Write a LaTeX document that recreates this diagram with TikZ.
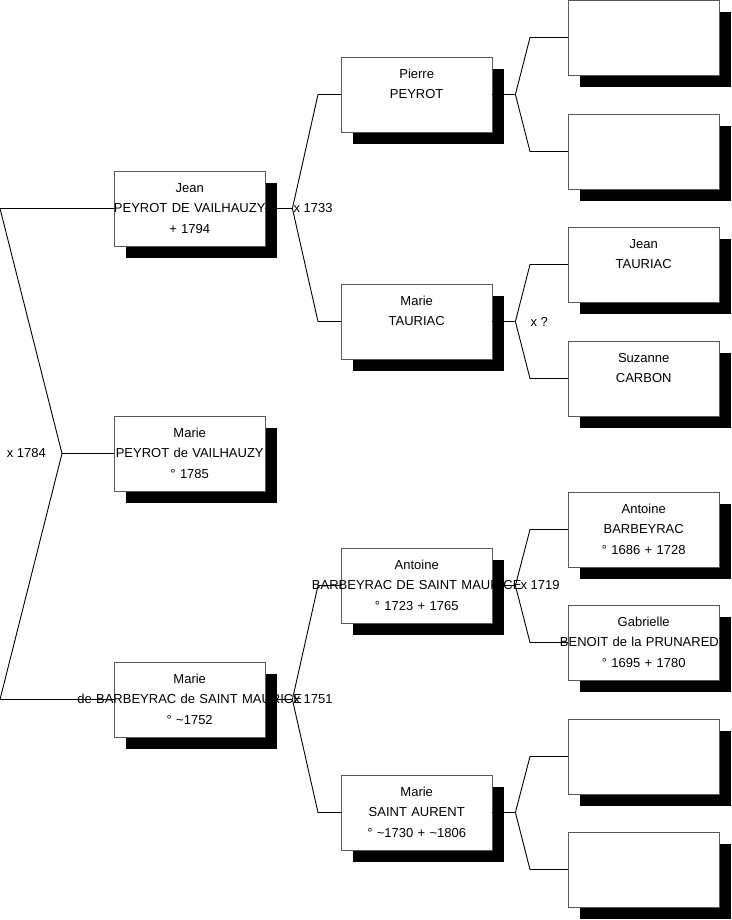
\documentclass[tikz,border=0pt]{standalone}
\usepackage{fontspec}
\setmainfont{Liberation Sans}
\usepackage{tikz}
\usetikzlibrary{shadows,positioning}
\newcommand{\who}[3]{\makebox[0pt]{\strut #1}\\\makebox[0pt]{\strut #2}\\\makebox[0pt]{\strut #3}}

\begin{document}
\begin{tikzpicture}[x=1pt, y=-1pt]
\tikzstyle{person} = [rectangle, anchor=west, minimum width=151pt, minimum height=75pt, text width=151pt, inner sep=0pt, align=center, draw=black!65, fill=white, font=\fontsize{13}{20.5}\selectfont, drop shadow={shadow xshift=12pt, shadow yshift=-12pt, fill=black, opacity=1}]
\tikzstyle{link} = [line width=0.9pt]
\tikzstyle{wed} = [anchor=west, inner sep=1pt, font=\fontsize{13}{16}\selectfont]

\useasboundingbox (0,0) rectangle (731,920);

\node (jean) [person] at (114,208.5) {\who{Jean}{PEYROT DE VAILHAUZY}{+ 1794}};
\node (mariep) [person] at (114,453.5) {\who{Marie}{PEYROT de VAILHAUZY}{° 1785}};
\node (marieb) [person] at (114,699.5) {\who{Marie}{de BARBEYRAC de SAINT MAURICE}{° \textasciitilde1752}};

\node (pierre) [person] at (341,94.5) {\who{Pierre}{PEYROT}{}};
\node (mariet) [person] at (341,321.5) {\who{Marie}{TAURIAC}{}};
\node (antoine) [person] at (341,585.5) {\who{Antoine}{BARBEYRAC DE SAINT MAURICE}{° 1723 + 1765}};
\node (maries) [person] at (341,812.5) {\who{Marie}{SAINT AURENT}{° \textasciitilde1730 + \textasciitilde1806}};

\node (unk1) [person] at (568,37.5) {};
\node (unk2) [person] at (568,151.5) {};
\node (jeant) [person] at (568,264.5) {\who{Jean}{TAURIAC}{}};
\node (suzanne) [person] at (568,378.5) {\who{Suzanne}{CARBON}{}};
\node (antoineb) [person] at (568,529.5) {\who{Antoine}{BARBEYRAC}{° 1686 + 1728}};
\node (gabrielle) [person] at (568,642.5) {\who{Gabrielle}{BENOIT de la PRUNAREDE}{° 1695 + 1780}};
\node (unk3) [person] at (568,756.5) {};
\node (unk4) [person] at (568,869.5) {};

\coordinate (r1) at (0,208.5);
\coordinate (rm) at (62,453.5);
\coordinate (r2) at (0,699.5);
\draw [link] (jean.west) -- (r1) -- (rm) -- (r2) -- (marieb.west);
\draw [link] (rm) -- (mariep.west);
\node (w1784) [wed, anchor=east, xshift=-15pt] at (rm) {x 1784};

\coordinate (fjean) at ([xshift=27pt]jean.east);
\draw [link] (jean.east) -- (fjean);
\draw [link] (pierre.west) -- ([xshift=-23pt]pierre.west) -- (fjean) -- ([xshift=-23pt]mariet.west) -- (mariet.west);
\node (w1733) [wed] at (fjean) {x 1733};

\coordinate (fmarie) at ([xshift=27pt]marieb.east);
\draw [link] (marieb.east) -- (fmarie);
\draw [link] (antoine.west) -- ([xshift=-23pt]antoine.west) -- (fmarie) -- ([xshift=-23pt]maries.west) -- (maries.west);
\node (w1751) [wed] at (fmarie) {x 1751};

\coordinate (fpierre) at ([xshift=23pt]pierre.east);
\draw [link] (pierre.east) -- (fpierre);
\draw [link] (unk1.west) -- ([xshift=-38pt]unk1.west) -- (fpierre) -- ([xshift=-38pt]unk2.west) -- (unk2.west);

\coordinate (fmariet) at ([xshift=23pt]mariet.east);
\draw [link] (mariet.east) -- (fmariet);
\draw [link] (jeant.west) -- ([xshift=-38pt]jeant.west) -- (fmariet) -- ([xshift=-38pt]suzanne.west) -- (suzanne.west);
\node (wq) [wed, xshift=14pt] at (fmariet) {x ?};

\coordinate (fantoine) at ([xshift=23pt]antoine.east);
\draw [link] (antoine.east) -- (fantoine);
\draw [link] (antoineb.west) -- ([xshift=-38pt]antoineb.west) -- (fantoine) -- ([xshift=-38pt]gabrielle.west) -- (gabrielle.west);
\node (w1719) [wed, xshift=4pt] at (fantoine) {x 1719};

\coordinate (fmaries) at ([xshift=23pt]maries.east);
\draw [link] (maries.east) -- (fmaries);
\draw [link] (unk3.west) -- ([xshift=-38pt]unk3.west) -- (fmaries) -- ([xshift=-38pt]unk4.west) -- (unk4.west);
\end{tikzpicture}
\end{document}
